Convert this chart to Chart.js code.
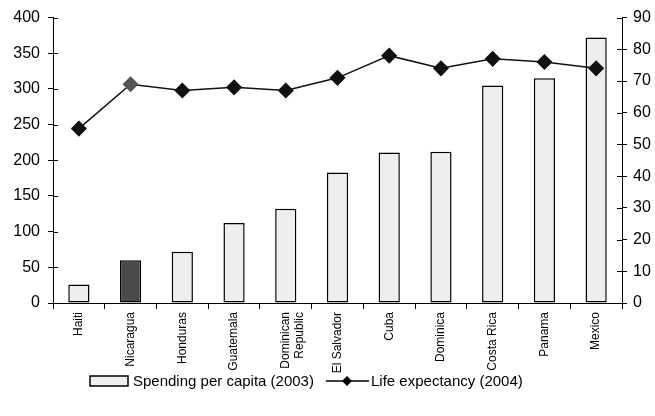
<!DOCTYPE html>
<html>
<head>
<meta charset="utf-8">
<script src="https://cdn.jsdelivr.net/npm/chart.js@4"></script>
<style>
  html, body { margin: 0; padding: 0; background: #fff; }
  #wrap { width: 655px; height: 416px; }
</style>
</head>
<body>
<div id="wrap"><canvas id="healthChart" width="655" height="416"></canvas></div>
<script>
// ---- data ----
const countries = ["Haiti", "Nicaragua", "Honduras", "Guatemala", ["Dominican", "Republic"],
    "El Salvador", "Cuba", "Dominica", "Costa Rica", "Panama", "Mexico"];
const spending = [26, 60, 72, 112, 132, 183, 211, 212, 305, 315, 372];
const lifeExpectancy = [55, 69, 67, 68, 67, 71, 78, 74, 77, 76, 74];
const spendingTicks = [0, 50, 100, 150, 200, 250, 300, 350, 400];
const lifeTicks = [0, 10, 20, 30, 40, 50, 60, 70, 80, 90];
const spendingLabel = "Spending per capita (2003)";
const lifeLabel = "Life expectancy (2004)";
const highlight = 1; // Nicaragua

const FONT = "'Liberation Sans', Arial, sans-serif";
const barFill = spending.map((v, i) => i === highlight ? "#4a4a4a" : "#eeeeee");
const pointFill = lifeExpectancy.map((v, i) => i === highlight ? "#555555" : "#111111");

// inward halves of the y tick marks
const innerTicks = {
    id: "innerTicks",
    afterDraw(chart) {
        const ctx = chart.ctx;
        ctx.save();
        ctx.strokeStyle = "#000";
        ctx.lineWidth = 1;
        ["y", "y1"].forEach(id => {
            const s = chart.scales[id];
            const x0 = id === "y" ? s.right : s.left;
            const dir = id === "y" ? 1 : -1;
            s.ticks.forEach((t, i) => {
                const y = Math.round(s.getPixelForTick(i)) + 0.5;
                ctx.beginPath();
                ctx.moveTo(x0, y);
                ctx.lineTo(x0 + dir * 5, y);
                ctx.stroke();
            });
        });
        ctx.restore();
    }
};

// legend along the bottom: bar box + line with diamond
const bottomLegend = {
    id: "bottomLegend",
    afterDraw(chart) {
        const ctx = chart.ctx;
        const y = 381;
        ctx.save();
        ctx.font = "15px " + FONT;
        ctx.textBaseline = "middle";

        ctx.fillStyle = "#eeeeee";
        ctx.fillRect(90, y - 5, 38, 10);
        ctx.strokeStyle = "#000";
        ctx.lineWidth = 1.5;
        ctx.strokeRect(90, y - 5, 38, 10);
        ctx.fillStyle = "#000";
        ctx.fillText(spendingLabel, 133, y + 1);

        ctx.beginPath();
        ctx.moveTo(326, y);
        ctx.lineTo(369, y);
        ctx.stroke();
        ctx.beginPath();
        ctx.moveTo(347, y - 5);
        ctx.lineTo(352, y);
        ctx.lineTo(347, y + 5);
        ctx.lineTo(342, y);
        ctx.closePath();
        ctx.fill();
        ctx.fillText(lifeLabel, 371, y + 1);
        ctx.restore();
    }
};

new Chart(document.getElementById("healthChart"), {
    type: "bar",
    data: {
        labels: countries,
        datasets: [
            {
                type: "line",
                label: lifeLabel,
                data: lifeExpectancy,
                yAxisID: "y1",
                borderColor: "#111",
                borderWidth: 1.5,
                pointStyle: "rectRot",
                pointRadius: 7,
                pointBackgroundColor: pointFill,
                pointBorderColor: pointFill,
                tension: 0,
                order: 0
            },
            {
                label: spendingLabel,
                data: spending,
                yAxisID: "y",
                backgroundColor: barFill,
                borderColor: "#000",
                borderWidth: 1.5,
                borderSkipped: false,
                categoryPercentage: 1,
                barPercentage: 0.41,
                order: 1
            }
        ]
    },
    options: {
        responsive: false,
        animation: false,
        layout: { padding: { top: 17, left: 0, right: 0, bottom: 0 } },
        plugins: {
            legend: { display: false },
            tooltip: { enabled: false }
        },
        scales: {
            x: {
                grid: { display: true, drawOnChartArea: false, tickLength: 6, color: "#000", offset: true },
                border: { color: "#000", width: 1 },
                ticks: {
                    color: "#000",
                    font: { family: FONT, size: 12 },
                    minRotation: 90,
                    maxRotation: 90,
                    padding: 3,
                    autoSkip: false
                },
                afterFit(s) { s.height = 113; }
            },
            y: {
                position: "left",
                min: 0,
                max: 400,
                afterBuildTicks(s) { s.ticks = spendingTicks.map(v => ({ value: v })); },
                grid: { display: true, drawOnChartArea: false, tickLength: 5, color: "#000" },
                border: { color: "#000", width: 1 },
                ticks: { color: "#000", font: { family: FONT, size: 16 }, padding: 8 },
                afterFit(s) { s.width = 53; }
            },
            y1: {
                position: "right",
                min: 0,
                max: 90,
                afterBuildTicks(s) { s.ticks = lifeTicks.map(v => ({ value: v })); },
                grid: { display: true, drawOnChartArea: false, tickLength: 5, color: "#000" },
                border: { color: "#000", width: 1 },
                ticks: { color: "#000", font: { family: FONT, size: 16 }, padding: 6 },
                afterFit(s) { s.width = 33; }
            }
        }
    },
    plugins: [innerTicks, bottomLegend]
});
</script>
</body>
</html>
